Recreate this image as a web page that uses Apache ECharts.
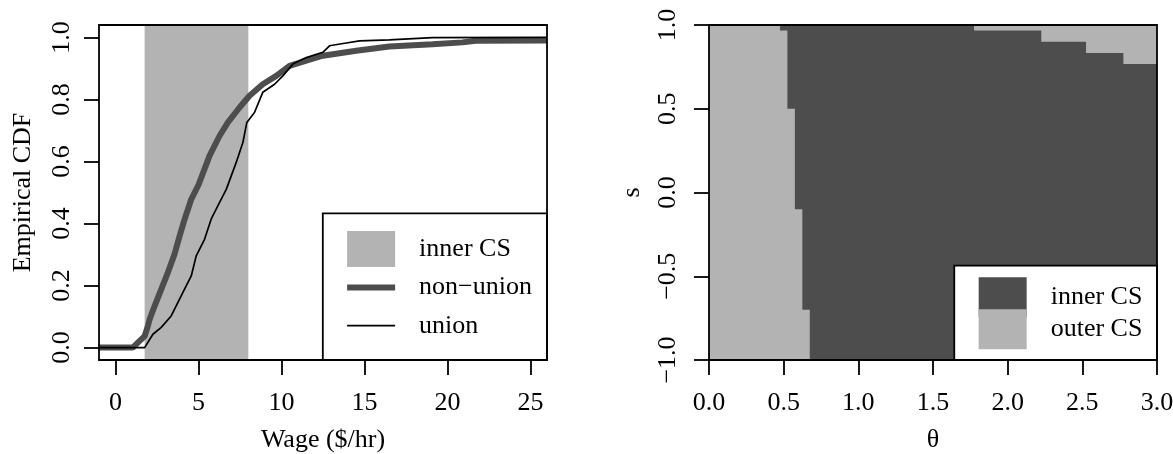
<!DOCTYPE html>
<html>
<head>
<meta charset="utf-8">
<script src="https://cdn.jsdelivr.net/npm/echarts@6/dist/echarts.min.js"></script>
<style>
html,body{margin:0;padding:0;background:#fff;}
#Chart{width:1173px;height:454px;}
</style>
</head>
<body>
<div id="Chart"></div>
<script>
// left panel: empirical CDF
var wageRange=[-1,26]
var cdfRange=[-0.04,1.04]
var wageTicks=[0,5,10,15,20,25]
var cdfTicks=[0,0.2,0.4,0.6,0.8,1]
var innerBand=[1.75,8]
var nonUnion=[[-1,0],[1.04,0],[1.34,0.016],[1.75,0.037],[1.95,0.07],[2.05,0.091],[2.35,0.134],[2.75,0.188],[3.15,0.242],[3.55,0.301],[3.86,0.36],[4.16,0.414],[4.56,0.478],[5.0,0.525],[5.66,0.618],[6.27,0.683],[6.77,0.726],[7.47,0.774],[8.07,0.812],[8.87,0.849],[9.68,0.876],[10.48,0.908],[11.69,0.928],[12.49,0.941],[14.5,0.957],[16.5,0.971],[19.1,0.978],[20.9,0.984],[21.7,0.989],[26,0.99]]
var union=[[-1,0],[1.75,0],[2.25,0.043],[2.75,0.065],[3.35,0.102],[3.75,0.145],[4.05,0.177],[4.56,0.231],[4.86,0.296],[5.36,0.349],[5.76,0.414],[6.16,0.457],[6.67,0.51],[7.27,0.597],[7.67,0.661],[7.91,0.726],[8.37,0.758],[8.87,0.823],[9.58,0.849],[10.08,0.876],[10.68,0.914],[11.49,0.935],[12.49,0.952],[12.89,0.973],[13.9,0.982],[14.7,0.989],[16.5,0.992],[19.1,0.999],[26,1]]

// right panel: confidence sets over (theta, s)
var thetaRange=[0,3]
var sRange=[-1,1]
var thetaTicks=[0,0.5,1,1.5,2,2.5,3]
var sTicks=[-1,-0.5,0,0.5,1]
var sBandEdges=[-1,-0.7,-0.1,0.5,0.967,1]
var innerStartTheta=[0.675,0.625,0.575,0.525,0.475]
var thetaBandEdges=[1.775,2.225,2.525,2.775,3]
var innerTopS=[0.967,0.9,0.833,0.767]

var FONT="'Liberation Serif','DejaVu Serif',serif"
var LIGHT='#b3b3b3',DARK='#4d4d4d'

function $each(arr,fn){for(var i=0;i<arr.length;i++)fn(i,arr[i])}

//左侧浅色区域和右上浅色区域的多边形(数据坐标)
function outerPolygons(){
    var left=[[thetaRange[0],sRange[0]]]
    $each(innerStartTheta,function(i,t){
        left.push([t,sBandEdges[i]])
        left.push([t,sBandEdges[i+1]])
    })
    left.push([thetaRange[0],sRange[1]])
    var top=[[thetaBandEdges[0],sRange[1]]]
    $each(innerTopS,function(i,s){
        top.push([thetaBandEdges[i],s])
        top.push([thetaBandEdges[i+1],s])
    })
    top.push([thetaRange[1],sRange[1]])
    return [left,top]
}
var outerPolys=outerPolygons()

function fix1(v){return (v<0?'\u2212':'')+Math.abs(v).toFixed(1)}

//图例里的线段图标(高度撑满36)
function barIcon(h){
    var y0=(36-h)/2,y1=y0+h
    return 'path://M0,0M0,36M0,'+y0+'L48,'+y0+'L48,'+y1+'L0,'+y1+'Z'
}

function bottomAxis(grid,range,ticks,name,fmt){
    return {
        type:'value',gridIndex:grid,position:'bottom',min:range[0],max:range[1],z:10,
        name:name,nameLocation:'middle',nameGap:67,nameMoveOverlap:false,
        nameTextStyle:{fontFamily:FONT,fontSize:26,color:'#000'},
        axisLine:{show:true,onZero:false,lineStyle:{color:'#000',width:1.8}},
        axisTick:{show:true,inside:false,length:15,customValues:ticks,lineStyle:{color:'#000',width:1.8}},
        axisLabel:{show:true,margin:30,customValues:ticks,formatter:fmt,fontFamily:FONT,fontSize:26,color:'#000'},
        splitLine:{show:false}
    }
}
function leftAxis(grid,range,ticks,name,fmt,margin,gap){
    return {
        type:'value',gridIndex:grid,position:'left',min:range[0],max:range[1],z:10,
        name:name,nameLocation:'middle',nameGap:gap,nameRotate:90,nameMoveOverlap:false,
        nameTextStyle:{fontFamily:FONT,fontSize:26,color:'#000'},
        axisLine:{show:true,onZero:false,lineStyle:{color:'#000',width:1.8}},
        axisTick:{show:true,inside:false,length:15,customValues:ticks,lineStyle:{color:'#000',width:1.8}},
        axisLabel:{show:true,rotate:90,margin:margin,customValues:ticks,formatter:fmt,fontFamily:FONT,fontSize:26,color:'#000'},
        splitLine:{show:false}
    }
}
function frameAxis(grid,range,pos){
    return {
        type:'value',gridIndex:grid,position:pos,min:range[0],max:range[1],z:10,
        axisLine:{show:true,onZero:false,lineStyle:{color:'#000',width:1.8}},
        axisTick:{show:false},axisLabel:{show:false},splitLine:{show:false}
    }
}

function drawChar(){
    var myChart=echarts.init(document.getElementById('Chart'),null,{renderer:'canvas'})
    var option={
        animation:false,
        backgroundColor:'#fff',
        grid:[
            {left:99,top:25,width:448,height:335,outerBoundsMode:'none'},
            {left:709,top:25,width:448,height:335,outerBoundsMode:'none'}
        ],
        xAxis:[
            bottomAxis(0,wageRange,wageTicks,'Wage ($/hr)',function(v){return String(v)}),
            frameAxis(0,wageRange,'top'),
            bottomAxis(1,thetaRange,thetaTicks,'\u03b8',fix1),
            frameAxis(1,thetaRange,'top')
        ],
        yAxis:[
            leftAxis(0,cdfRange,cdfTicks,'Empirical CDF',fix1,24,63),
            frameAxis(0,cdfRange,'right'),
            leftAxis(1,sRange,sTicks,'s',fix1,28,64),
            frameAxis(1,sRange,'right')
        ],
        legend:[
            {
                orient:'vertical',right:626,bottom:94,
                padding:[17.7,15,16.3,24.3],
                backgroundColor:'#fff',borderColor:'#000',borderWidth:1.8,borderRadius:0,
                itemWidth:48,itemHeight:36,itemGap:2.3,selectedMode:false,
                textStyle:{fontFamily:FONT,fontSize:26,color:'#000',padding:[0,0,0,19]},
                data:[
                    {name:'inner CS',icon:'rect',itemStyle:{color:LIGHT,borderWidth:0}},
                    {name:'non\u2212union',icon:barIcon(6),itemStyle:{color:DARK,borderWidth:0}},
                    {name:'union',icon:barIcon(1.8),itemStyle:{color:'#000',borderWidth:0}}
                ]
            },
            {
                orient:'vertical',right:16,bottom:94,
                padding:[11.7,14.6,10.7,24.4],
                backgroundColor:'#fff',borderColor:'#000',borderWidth:1.8,borderRadius:0,
                itemWidth:48,itemHeight:40,itemGap:-8,selectedMode:false,
                textStyle:{fontFamily:FONT,fontSize:26,color:'#000',padding:[0,0,0,19]},
                data:[
                    {name:'inner CS',icon:'rect',itemStyle:{color:DARK,borderWidth:0}},
                    {name:'outer CS',icon:'rect',itemStyle:{color:LIGHT,borderWidth:0}}
                ]
            }
        ],
        series:[
            {
                name:'inner CS',type:'custom',xAxisIndex:0,yAxisIndex:0,z:1,silent:true,clip:true,
                itemStyle:{color:LIGHT},
                data:[innerBand],
                renderItem:function(params,api){
                    var p1=api.coord([api.value(0),cdfRange[1]])
                    var p2=api.coord([api.value(1),cdfRange[0]])
                    return {type:'rect',shape:{x:p1[0],y:p1[1],width:p2[0]-p1[0],height:p2[1]-p1[1]},style:{fill:LIGHT}}
                }
            },
            {
                name:'non\u2212union',type:'line',xAxisIndex:0,yAxisIndex:0,z:3,
                data:nonUnion,symbol:'none',silent:true,
                lineStyle:{color:DARK,width:6},itemStyle:{color:DARK}
            },
            {
                name:'union',type:'line',xAxisIndex:0,yAxisIndex:0,z:4,
                data:union,symbol:'none',silent:true,
                lineStyle:{color:'#000',width:1.7},itemStyle:{color:'#000'}
            },
            {
                name:'inner CS',type:'custom',xAxisIndex:2,yAxisIndex:2,z:1,silent:true,clip:true,
                itemStyle:{color:DARK},
                data:[[thetaRange[0],thetaRange[1],sRange[0],sRange[1]]],
                renderItem:function(params,api){
                    var p1=api.coord([api.value(0),api.value(3)])
                    var p2=api.coord([api.value(1),api.value(2)])
                    return {type:'rect',shape:{x:p1[0],y:p1[1],width:p2[0]-p1[0],height:p2[1]-p1[1]},style:{fill:DARK}}
                }
            },
            {
                name:'outer CS',type:'custom',xAxisIndex:2,yAxisIndex:2,z:2,silent:true,clip:true,
                itemStyle:{color:LIGHT},
                data:[[0],[1]],
                renderItem:function(params,api){
                    var pts=outerPolys[params.dataIndex].map(function(p){return api.coord(p)})
                    return {type:'polygon',shape:{points:pts},style:{fill:LIGHT}}
                }
            }
        ]
    }
    myChart.setOption(option)
}
drawChar()
</script>
</body>
</html>
